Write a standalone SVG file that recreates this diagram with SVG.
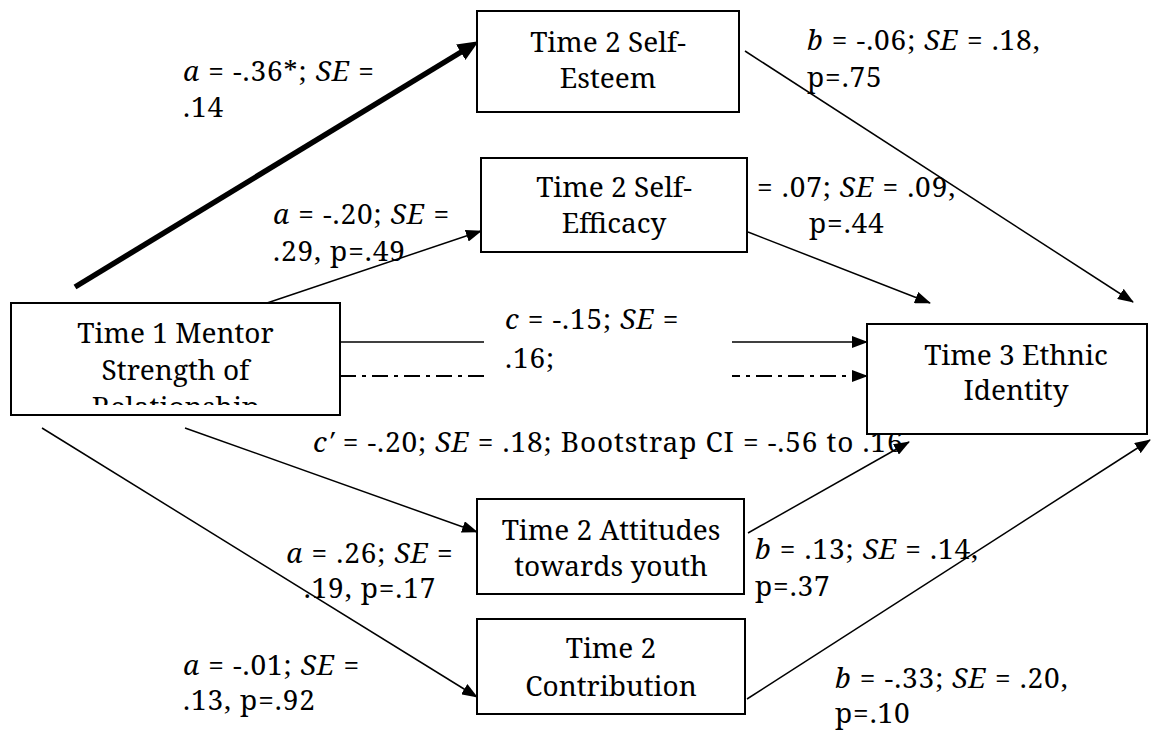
<svg xmlns="http://www.w3.org/2000/svg" width="1153" height="732" viewBox="0 0 1153 732">
<style>
text{font-family:'Noto Serif','Liberation Serif','DejaVu Serif',serif;font-size:28px;fill:#000}
.lb text{letter-spacing:0.9px}
.i{font-style:italic}
.mid{text-anchor:middle}
.box{fill:#fff;stroke:#000;stroke-width:2}
.ln{fill:none;stroke:#000;stroke-width:1.5}
.thick{fill:none;stroke:#000;stroke-width:5.5}
.dd{stroke-dasharray:16 6 4 6;stroke-width:2}
</style>
<defs>
<marker id="ah" markerUnits="userSpaceOnUse" markerWidth="16" markerHeight="12" refX="15" refY="6" orient="auto"><path d="M0,0 L16,6 L0,12 z" fill="#000"/></marker>
<marker id="ahT" markerUnits="userSpaceOnUse" markerWidth="22" markerHeight="18" refX="12" refY="9" orient="auto"><path d="M0,0 L21,9 L0,18 z" fill="#000"/></marker>
<clipPath id="clipT1"><rect x="12" y="304" width="327" height="101"/></clipPath>
</defs>
<g id="labels" class="lb">
<text x="183" y="81"><tspan class="i">a</tspan> = -.36*; <tspan class="i">SE</tspan> =</text>
<text x="183" y="117">.14</text>
<text x="273" y="224"><tspan class="i">a</tspan> = -.20; <tspan class="i">SE</tspan> =</text>
<text x="273" y="261">.29, p=.49</text>
<text x="807" y="50"><tspan class="i">b</tspan> = -.06; <tspan class="i">SE</tspan> = .18,</text>
<text x="807" y="87">p=.75</text>
<text x="757" y="197">= .07; <tspan class="i">SE</tspan> = .09,</text>
<text x="809" y="233">p=.44</text>
<text x="313" y="452"><tspan class="i">c′</tspan> = -.20; <tspan class="i">SE</tspan> = .18; Bootstrap CI = -.56 to .16</text>
<text x="370" y="563" class="mid"><tspan class="i">a</tspan> = .26; <tspan class="i">SE</tspan> =</text>
<text x="370" y="598" class="mid">.19, p=.17</text>
<text x="183" y="675"><tspan class="i">a</tspan> = -.01; <tspan class="i">SE</tspan> =</text>
<text x="183" y="710">.13, p=.92</text>
<text x="755" y="559"><tspan class="i">b</tspan> = .13; <tspan class="i">SE</tspan> = .14,</text>
<text x="755" y="596">p=.37</text>
<text x="835" y="688"><tspan class="i">b</tspan> = -.33; <tspan class="i">SE</tspan> = .20,</text>
<text x="835" y="723">p=.10</text>
</g>
<g id="connectors">
<line class="thick" x1="75" y1="287" x2="471" y2="46" marker-end="url(#ahT)"/>
<line class="ln" x1="267" y1="303" x2="481" y2="231" marker-end="url(#ah)"/>
<line class="ln" x1="340" y1="342" x2="867" y2="342" marker-end="url(#ah)"/>
<line class="ln dd" x1="340" y1="376" x2="867" y2="376" marker-end="url(#ah)"/>
<line class="ln" x1="185" y1="428" x2="477" y2="532" marker-end="url(#ah)"/>
<line class="ln" x1="42" y1="428" x2="477" y2="697" marker-end="url(#ah)"/>
<line class="ln" x1="745" y1="51" x2="1133" y2="302" marker-end="url(#ah)"/>
<line class="ln" x1="748" y1="232" x2="930" y2="303" marker-end="url(#ah)"/>
<line class="ln" x1="748" y1="533" x2="909" y2="442" marker-end="url(#ah)"/>
<line class="ln" x1="747" y1="699" x2="1150" y2="440" marker-end="url(#ah)"/>
</g>
<g id="c-label" class="lb">
<rect x="484" y="306" width="248" height="86" fill="#fff"/>
<text x="505" y="329"><tspan class="i">c</tspan> = -.15; <tspan class="i">SE</tspan> =</text>
<text x="505" y="368">.16;</text>
</g>
<g id="t1">
<rect class="box" x="11" y="303" width="329" height="112"/>
<g clip-path="url(#clipT1)">
<text x="175.5" y="343" class="mid">Time 1 Mentor</text>
<text x="175.5" y="380" class="mid">Strength of</text>
<text x="175.5" y="417" class="mid">Relationship</text>
</g>
</g>
<g id="selfesteem">
<rect class="box" x="477" y="11" width="262" height="101"/>
<text x="608" y="52" class="mid">Time 2 Self-</text>
<text x="608" y="88" class="mid">Esteem</text>
</g>
<g id="selfefficacy">
<rect class="box" x="481" y="158" width="266" height="94"/>
<text x="614" y="197" class="mid">Time 2 Self-</text>
<text x="614" y="233" class="mid">Efficacy</text>
</g>
<g id="t3">
<rect class="box" x="867" y="324" width="280" height="110"/>
<text x="1016" y="365" class="mid">Time 3 Ethnic</text>
<text x="1016" y="400" class="mid">Identity</text>
</g>
<g id="attitudes">
<rect class="box" x="477" y="499" width="267" height="95"/>
<text x="611" y="540" class="mid">Time 2 Attitudes</text>
<text x="611" y="576" class="mid">towards youth</text>
</g>
<g id="contribution">
<rect class="box" x="477" y="619" width="268" height="95"/>
<text x="611" y="658" class="mid">Time 2</text>
<text x="611" y="696" class="mid">Contribution</text>
</g>
</svg>
